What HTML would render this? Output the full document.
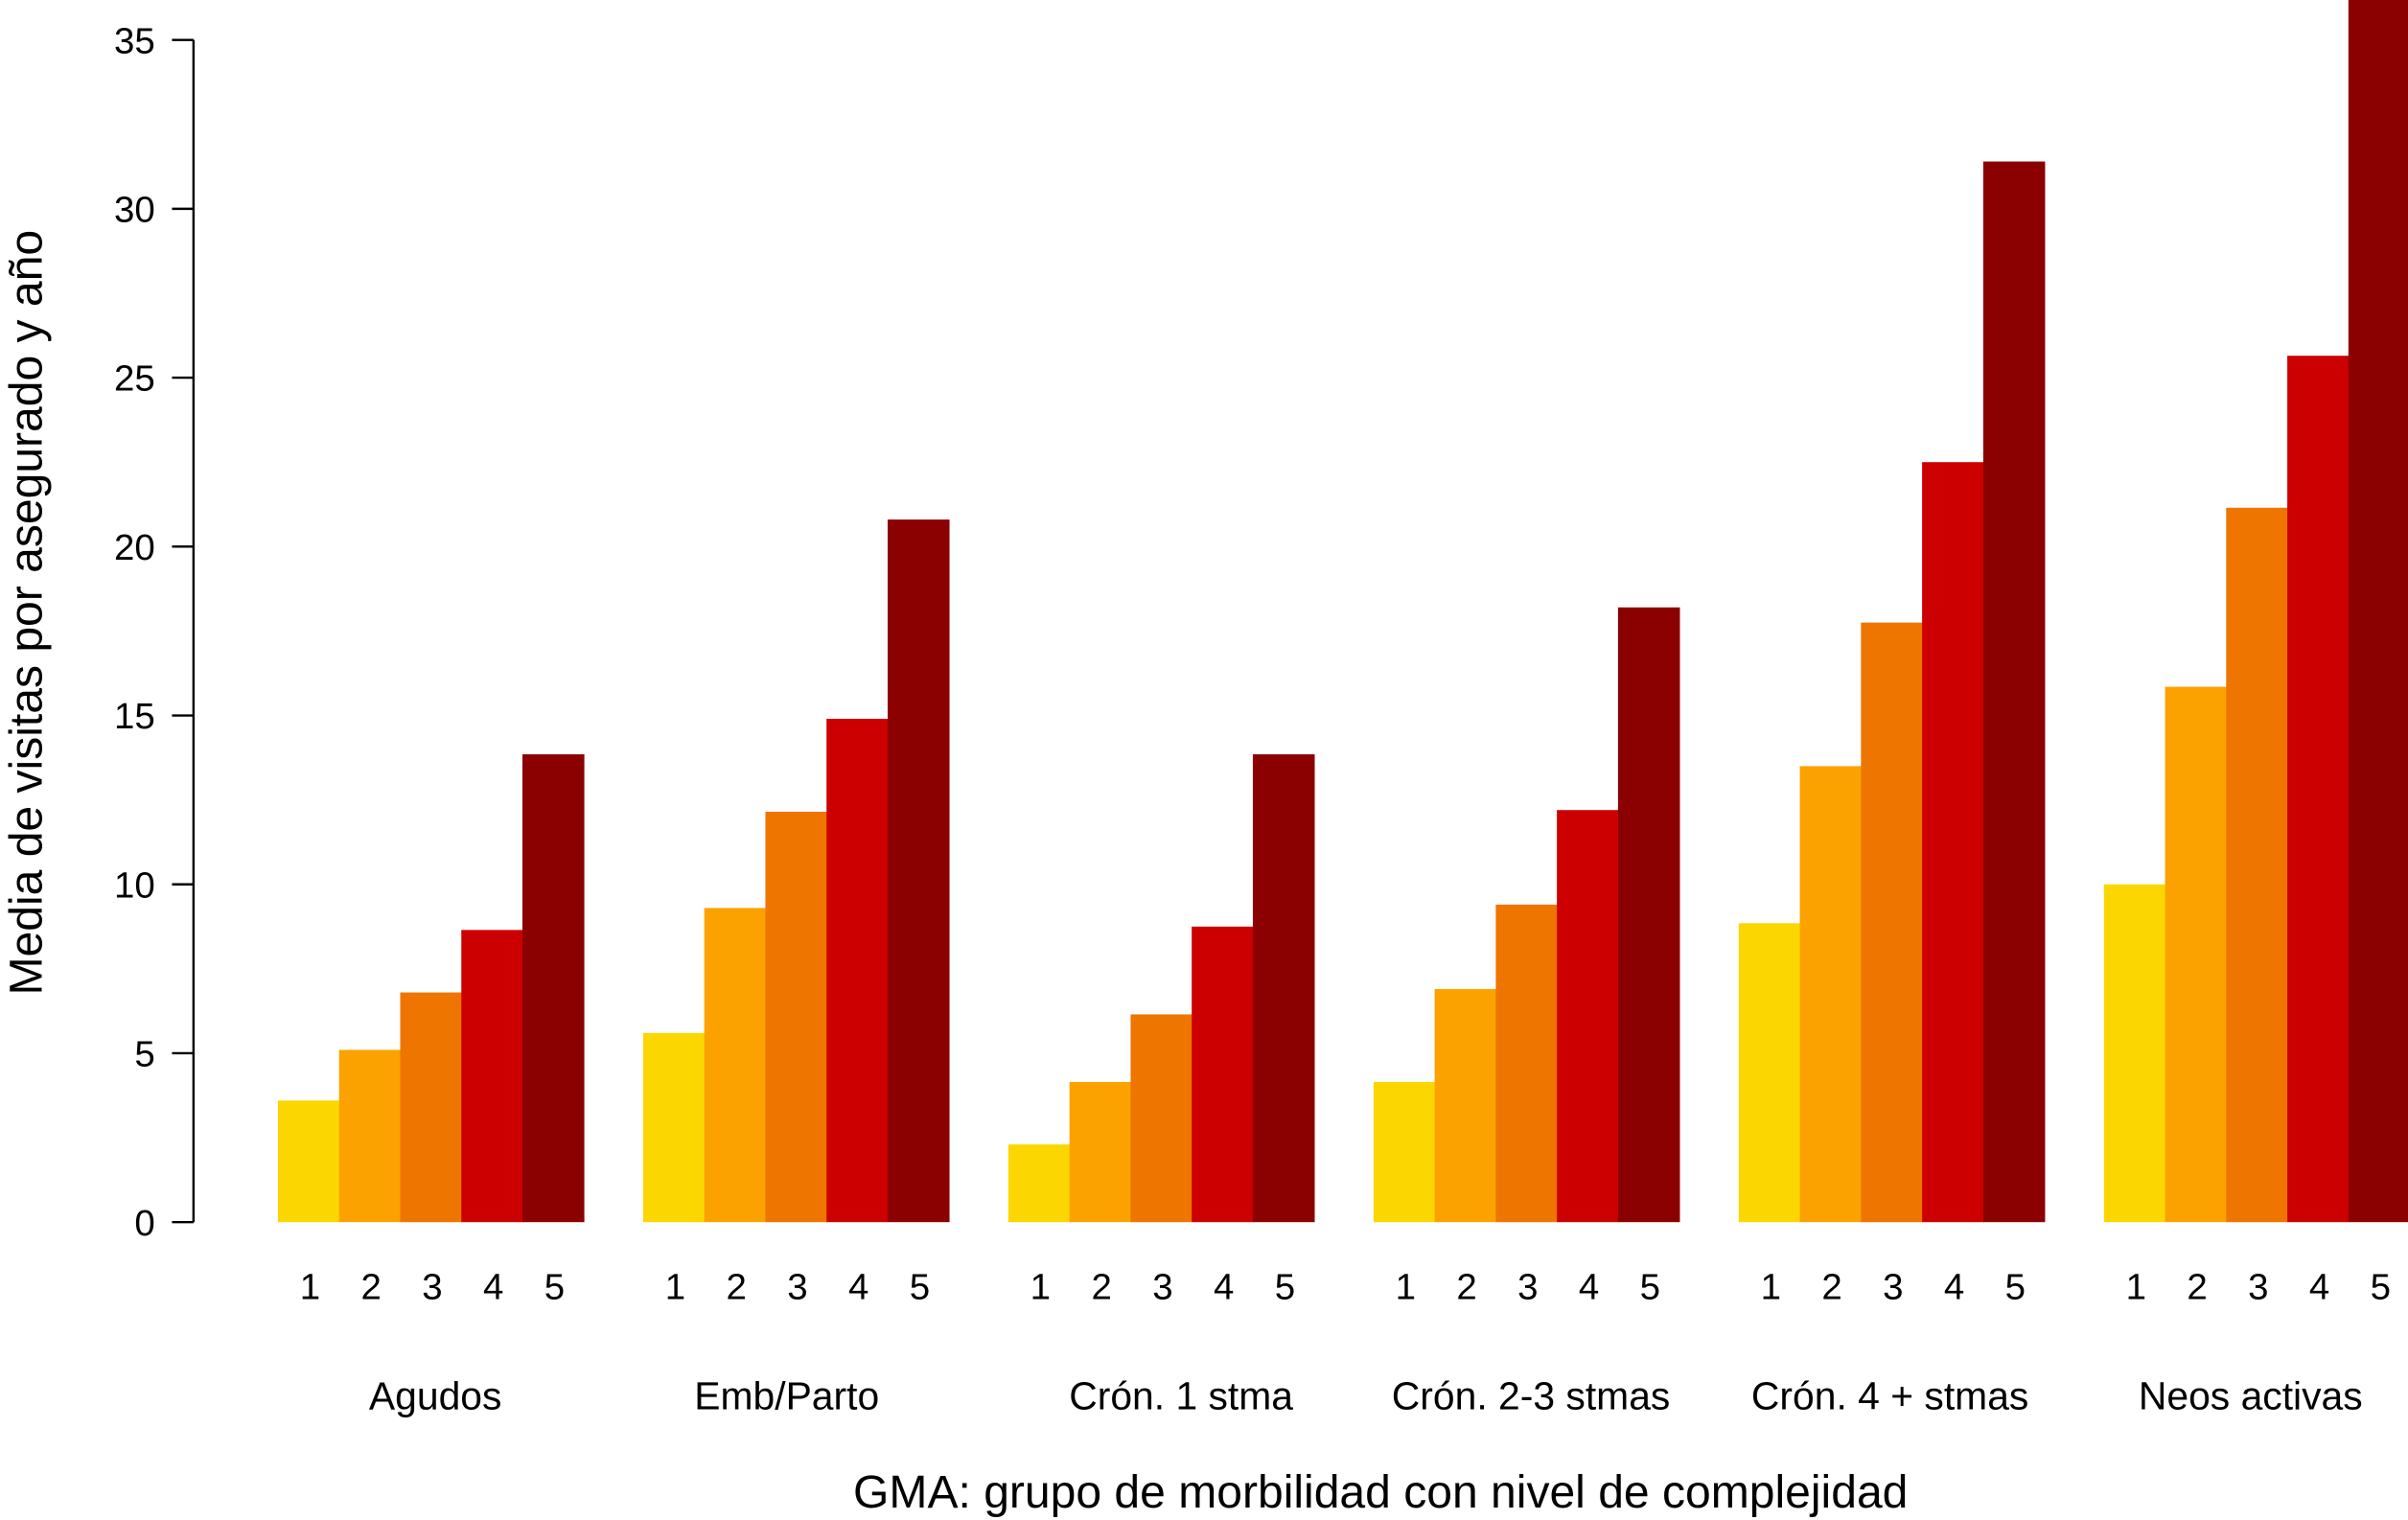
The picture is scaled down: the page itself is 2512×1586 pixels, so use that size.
<!DOCTYPE html>
<html><head><meta charset="utf-8"><style>
html,body{margin:0;padding:0;background:#fff;}
svg{display:block;}
text{font-family:"Liberation Sans",sans-serif;fill:#000;}
</style></head><body>
<svg id="chart" width="2512" height="1586" viewBox="0 0 1568 990" preserveAspectRatio="none" xmlns="http://www.w3.org/2000/svg">
<defs><clipPath id="plotclip"><rect x="120" y="0" width="1460" height="800"/></clipPath></defs>
<g id="bars" clip-path="url(#plotclip)"></g>
<g id="axis"></g>
<g id="xlabels"></g>
<text transform="translate(27,399) rotate(-90)" text-anchor="middle" font-size="30">Media de visitas por asegurado y año</text>
<text x="899" y="982" text-anchor="middle" font-size="30">GMA: grupo de morbilidad con nivel de complejidad</text>
</svg>
<script>
const categories = ["Agudos","Emb/Parto","Crón. 1 stma","Crón. 2-3 stmas","Crón. 4 + stmas","Neos activas"];
const levels = ["1","2","3","4","5"];
const level1 = [3.6, 5.6, 2.3, 4.15, 8.85, 10.0];
const level2 = [5.1, 9.3, 4.15, 6.9, 13.5, 15.85];
const level3 = [6.8, 12.15, 6.15, 9.4, 17.75, 21.15];
const level4 = [8.65, 14.9, 8.75, 12.2, 22.5, 25.65];
const level5 = [13.85, 20.8, 13.85, 18.2, 31.4, 38.0];
const yTicks = [0,5,10,15,20,25,30,35];
const colors = ["#FCD600","#FBA200","#EE7500","#CC0000","#8B0000"];

const NS="http://www.w3.org/2000/svg";
const series=[level1,level2,level3,level4,level5];
const y0=796, pxPerUnit=22;
const yScale=v=>y0-v*pxPerUnit;
const groupStart=181, groupStep=237.8, barW=39.8;
const xScale=(g,l)=>groupStart+g*groupStep+l*barW;
const labelShift=[3,-6,13,3,-1,-4];
function mk(tag,attrs,parent){const e=document.createElementNS(NS,tag);for(const k in attrs)e.setAttribute(k,attrs[k]);parent.appendChild(e);return e;}
const bars=document.getElementById('bars'), axis=document.getElementById('axis'), xl=document.getElementById('xlabels');
categories.forEach((c,g)=>{
  series.forEach((s,l)=>{
    const r=mk('rect',{x:xScale(g,l),y:yScale(s[g]),width:barW+0.5,height:y0-yScale(s[g]),fill:colors[l]},bars);
    
    
    const t=mk('text',{x:xScale(g,l)+barW/2+1,y:846,'text-anchor':'middle','font-size':24},xl);
    t.textContent=levels[l];
    
    
  });
  const gt=mk('text',{x:xScale(g,2)+barW/2+labelShift[g],y:918,'text-anchor':'middle','font-size':25.5},xl);
  gt.textContent=c;
  
  
});
mk('line',{x1:126,x2:126,y1:yScale(0),y2:yScale(35),stroke:'#000','stroke-width':1.5},axis);
yTicks.forEach(v=>{
  mk('line',{x1:112,x2:126,y1:yScale(v),y2:yScale(v),stroke:'#000','stroke-width':1.5},axis);
  const t=mk('text',{x:101,y:yScale(v)+8.5,'text-anchor':'end','font-size':24},axis);
  t.textContent=v;
  
  
});
</script>
</body></html>
